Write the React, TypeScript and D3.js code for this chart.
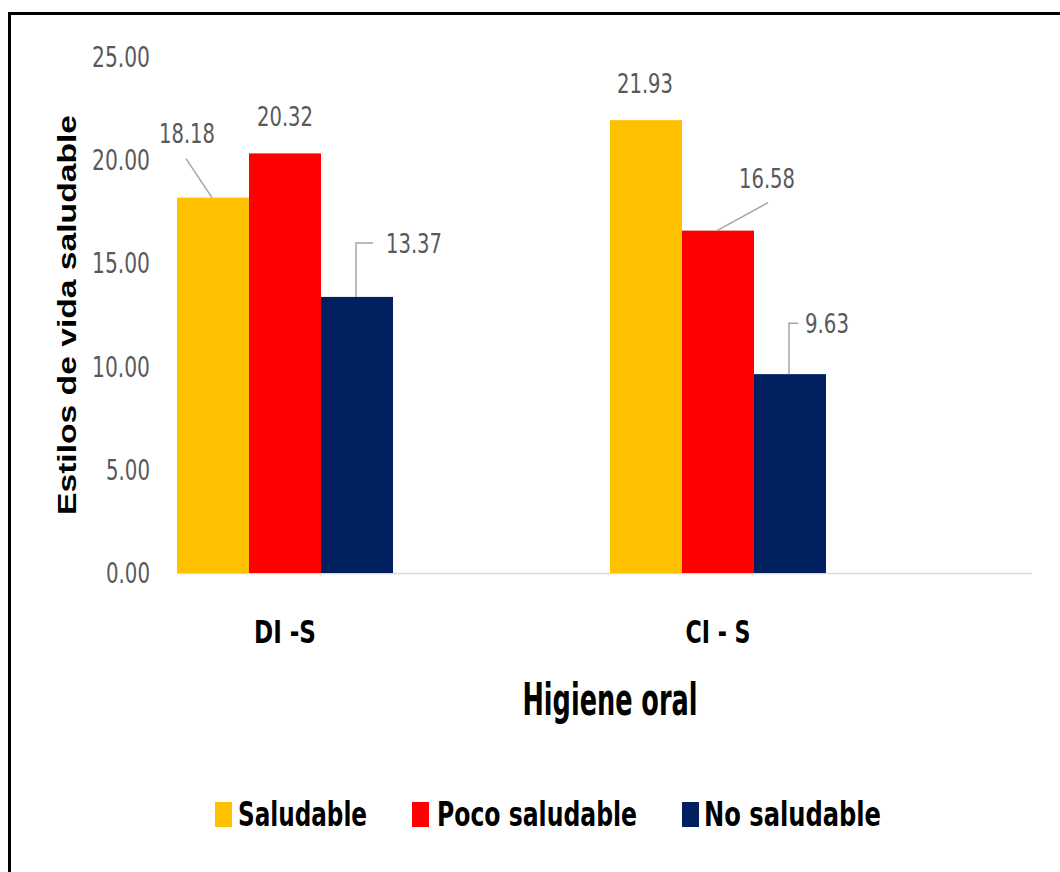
import React from "react";
import * as d3 from "d3";

const categories = ["DI -S", "CI - S"];
const seriesNames = ["Saludable", "Poco saludable", "No saludable"];
const saludable = [18.18, 21.93];
const pocoSaludable = [20.32, 16.58];
const noSaludable = [13.37, 9.63];
const yTicks = [0, 5, 10, 15, 20, 25];
const colors = ["#FFC000", "#FF0000", "#002060"];
const yTitle = "Estilos de vida saludable";
const xTitle = "Higiene oral";

// label placement (offsets relative to the bar's top centre) and leader type
// [seriesIndex][categoryIndex]
const labelLayout = [
  [
    { dx: -26, dy: -65, leader: "diag", lx: -27, ly: -39, anchor: "middle" },
    { dx: -1, dy: -37, leader: "none", lx: 0, ly: 0, anchor: "middle" },
  ],
  [
    { dx: 0, dy: -37, leader: "none", lx: 0, ly: 0, anchor: "middle" },
    { dx: 49, dy: -53, leader: "diag", lx: 50, ly: -28, anchor: "middle" },
  ],
  [
    { dx: 29, dy: -54, leader: "elbow", lx: 16, ly: -54, anchor: "start" },
    { dx: 15, dy: -51, leader: "elbow", lx: 8, ly: -51, anchor: "start" },
  ],
];

const W = 1060;
const H = 872;
const NARROW = "'Liberation Sans Narrow', 'DejaVu Sans Condensed', 'Liberation Sans', sans-serif";

export default function App() {
  const seriesValues = [saludable, pocoSaludable, noSaludable];
  const y = d3.scaleLinear().domain([0, 25]).range([573, 56.75]);
  const x0 = d3.scaleBand<string>().domain(categories).range([177, 177 + 2 * 433]).paddingInner(0).paddingOuter(0);
  const x1 = d3.scaleBand<string>().domain(seriesNames).range([0, 216]).padding(0);
  const fmt = d3.format(".2f");

  const bars: any[] = [];
  const labels: any[] = [];
  seriesValues.forEach((vals, si) => {
    vals.forEach((v, ci) => {
      const bx = (x0(categories[ci]) as number) + (x1(seriesNames[si]) as number);
      const bw = x1.bandwidth();
      const top = y(v);
      bars.push(
        <rect key={`b-${si}-${ci}`} x={bx} y={top} width={bw} height={y(0) - top} fill={colors[si]} />
      );
      const cx = bx + bw / 2;
      const L = labelLayout[si][ci];
      const lx = cx + L.dx;
      const ly = top + L.dy;
      if (L.leader === "diag") {
        labels.push(
          <line key={`l-${si}-${ci}`} x1={cx - 1} y1={top} x2={cx + L.lx} y2={top + L.ly} stroke="#a6a6a6" strokeWidth={1.5} />
        );
      } else if (L.leader === "elbow") {
        labels.push(
          <polyline
            key={`l-${si}-${ci}`}
            points={`${cx - 1},${top} ${cx - 1},${top + L.ly} ${cx + L.lx},${top + L.ly}`}
            fill="none"
            stroke="#a6a6a6"
            strokeWidth={1.5}
          />
        );
      }
      labels.push(
        <text
          key={`t-${si}-${ci}`}
          x={lx}
          y={ly + 10}
          textAnchor={L.anchor}
          fontFamily={NARROW}
          fontSize={27}
          fill="#595959"
          textLength={v >= 10 ? 56 : 44}
          lengthAdjust="spacingAndGlyphs"
        >
          {fmt(v)}
        </text>
      );
    });
  });

  const legendItems = [
    { sx: 215, tx: 238, tl: 129 },
    { sx: 412, tx: 437, tl: 200 },
    { sx: 682, tx: 704, tl: 177 },
  ];

  return (
    <svg
      width={W}
      height={H}
      viewBox={`0 0 ${W} ${H}`}
      style={{ position: "absolute", left: 0, top: 0, background: "#fff" }}
    >
      <rect x={0} y={0} width={W} height={H} fill="#fff" />
      <rect x={9.5} y={13.5} width={W + 100} height={H + 100} fill="none" stroke="#000" strokeWidth={3} />

      {/* y tick labels */}
      {yTicks.map((t) => (
        <text
          key={`yt-${t}`}
          x={150}
          y={y(t) + 10}
          textAnchor="end"
          fontFamily={NARROW}
          fontSize={28}
          fill="#595959"
          textLength={t >= 10 ? 58 : 44}
          lengthAdjust="spacingAndGlyphs"
        >
          {fmt(t)}
        </text>
      ))}

      {/* baseline */}
      <line x1={177} x2={1032} y1={y(0) + 0.5} y2={y(0) + 0.5} stroke="#d9d9d9" strokeWidth={1.5} />

      {bars}
      {labels}

      {/* category labels */}
      {categories.map((c) => (
        <text
          key={`c-${c}`}
          x={(x0(c) as number) + 108}
          y={643}
          textAnchor="middle"
          fontFamily={NARROW}
          fontWeight="bold"
          fontSize={32}
          fill="#000"
          textLength={c === "DI -S" ? 62 : 65}
          lengthAdjust="spacingAndGlyphs"
        >
          {c}
        </text>
      ))}

      {/* x title */}
      <text
        x={610}
        y={715}
        textAnchor="middle"
        fontFamily={NARROW}
        fontWeight="bold"
        fontSize={44}
        fill="#000"
        textLength={175}
        lengthAdjust="spacingAndGlyphs"
      >
        {xTitle}
      </text>

      {/* y title */}
      <text
        transform="translate(76,315) rotate(-90)"
        textAnchor="middle"
        fontFamily="'Liberation Sans', Arial, sans-serif"
        fontWeight="bold"
        fontSize={25}
        fill="#000"
        textLength={400}
        lengthAdjust="spacingAndGlyphs"
      >
        {yTitle}
      </text>

      {/* legend */}
      {seriesNames.map((s, i) => (
        <g key={`lg-${s}`}>
          <rect x={legendItems[i].sx} y={802} width={17} height={25} fill={colors[i]} />
          <text
            x={legendItems[i].tx}
            y={826}
            fontFamily={NARROW}
            fontWeight="bold"
            fontSize={33}
            fill="#000"
            textLength={legendItems[i].tl}
            lengthAdjust="spacingAndGlyphs"
          >
            {s}
          </text>
        </g>
      ))}
    </svg>
  );
}
